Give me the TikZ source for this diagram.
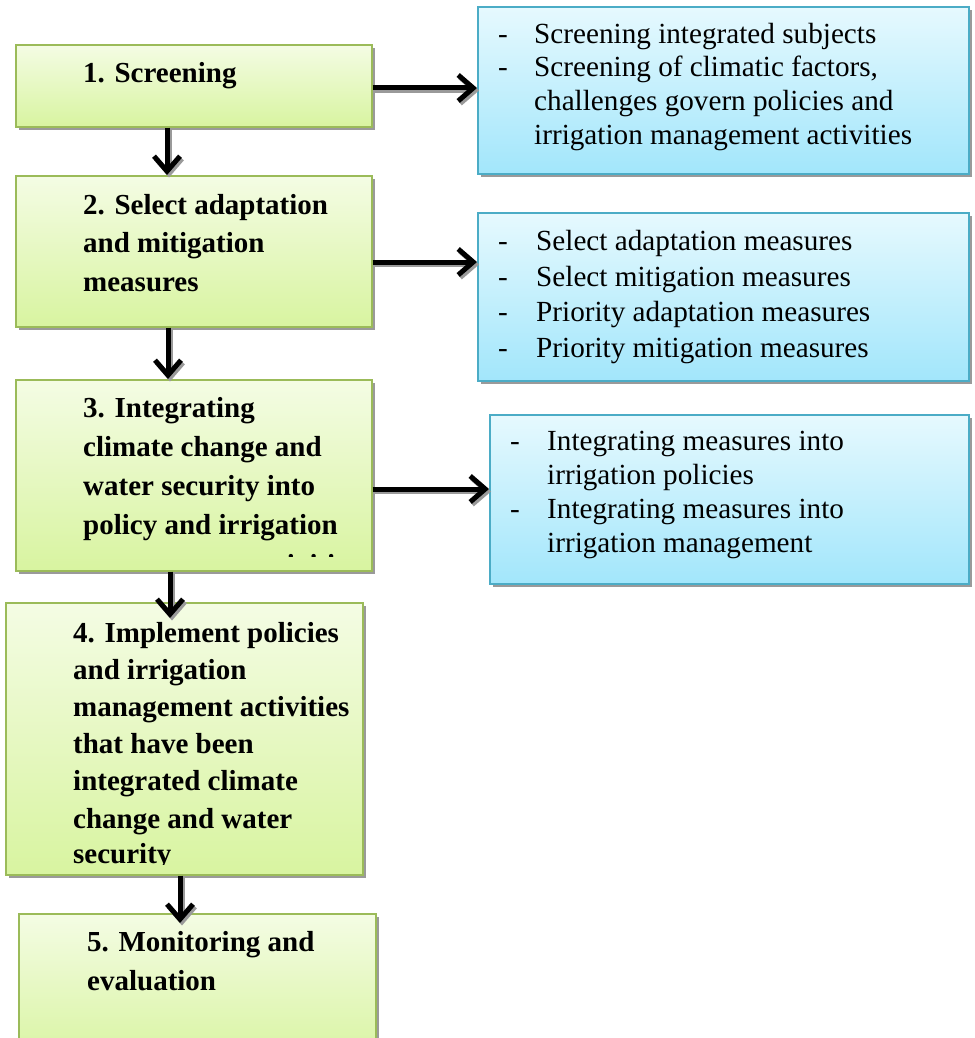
\documentclass[tikz,border=0pt]{standalone}
\usepackage{fontspec}
\setmainfont{Liberation Serif}
\usetikzlibrary{arrows.meta,shadows}
\definecolor{gborder}{HTML}{9BBB59}
\definecolor{gtop}{HTML}{F4FCE4}
\definecolor{gbot}{HTML}{D8F4A0}
\definecolor{bborder}{HTML}{4BACC6}
\definecolor{btop}{HTML}{E6F9FE}
\definecolor{bbot}{HTML}{A2E6FB}
\definecolor{shad}{HTML}{9A9A9A}
\begin{document}
\begin{tikzpicture}[x=1pt,y=-1pt,
  boxshadow/.style={drop shadow={shadow xshift=3pt,shadow yshift=-3pt,fill=shad,opacity=1}},
  gbox/.style={draw=gborder,line width=1.6pt,top color=gtop,bottom color=gbot,boxshadow,anchor=north west,inner sep=0pt},
  bbox/.style={draw=bborder,line width=1.6pt,top color=btop,bottom color=bbot,boxshadow,anchor=north west,inner sep=0pt},
  gtext/.style={anchor=base west,inner sep=0pt,font=\fontsize{29}{38.5}\selectfont\bfseries},
  btext/.style={anchor=base west,inner sep=0pt,font=\fontsize{29.2}{34}\selectfont},
  arr/.style={line width=5pt,-{Straight Barb[length=15pt,width=26pt]},
    preaction={draw=shad,line width=5pt,transform canvas={shift={(2pt,-2.5pt)}}}}]
\useasboundingbox (0,0) rectangle (974,1038);
\clip (0,0) rectangle (974,1038);

% green boxes
\node[gbox,minimum width=356pt,minimum height=82pt] (g1) at (15,44) {};
\node[gbox,minimum width=356pt,minimum height=151pt] (g2) at (15,175) {};
\node[gbox,minimum width=356pt,minimum height=191pt] (g3) at (15,379) {};
\node[gbox,minimum width=357pt,minimum height=272pt] (g4) at (5,602) {};
\node[gbox,minimum width=357pt,minimum height=150pt] (g5) at (18,913) {};

% blue boxes
\node[bbox,minimum width=491pt,minimum height=167pt] (b1) at (477,6) {};
\node[bbox,minimum width=491pt,minimum height=168pt] (b2) at (477,212) {};
\node[bbox,minimum width=479pt,minimum height=169pt] (b3) at (489,414) {};

% green texts
\node[gtext] (t1a) at (83,83) {1. Screening};

\node[gtext] (t2a) at (83,214) {2. Select adaptation};
\node[gtext] (t2b) at (83,252.5) {and mitigation};
\node[gtext] (t2c) at (83,291) {measures};

\begin{scope}
\clip (15,379) rectangle (371,556.5);
\node[gtext] (t3a) at (83,417) {3. Integrating};
\node[gtext] (t3b) at (83,456) {climate change and};
\node[gtext] (t3c) at (83,495) {water security into};
\node[gtext] (t3d) at (83,534) {policy and irrigation};
\node[gtext] (t3e) at (83,574) {management activities};
\end{scope}

\begin{scope}
\clip (5,602) rectangle (362,864);
\node[gtext] (t4a) at (73,642) {4. Implement policies};
\node[gtext] (t4b) at (73,679) {and irrigation};
\node[gtext] (t4c) at (73,716) {management activities};
\node[gtext] (t4d) at (73,753) {that have been};
\node[gtext] (t4e) at (73,790) {integrated climate};
\node[gtext] (t4f) at (73,828) {change and water};
\node[gtext] (t4g) at (73,863) {security};
\end{scope}

\node[gtext] (t5a) at (87,951) {5. Monitoring and};
\node[gtext] (t5b) at (87,990) {evaluation};

% blue texts
\node[btext] (d1a) at (498,43.5) {-};
\node[btext] (s1a) at (534,43.5) {Screening integrated subjects};
\node[btext] (d1b) at (498,77) {-};
\node[btext] (s1b) at (534,77) {Screening of climatic factors,};
\node[btext] (s1c) at (534,110.5) {challenges govern policies and};
\node[btext] (s1d) at (534,144) {irrigation management activities};

\node[btext] (d2a) at (498,250) {-};
\node[btext] (s2a) at (536,250) {Select adaptation measures};
\node[btext] (d2b) at (498,286) {-};
\node[btext] (s2b) at (536,286) {Select mitigation measures};
\node[btext] (d2c) at (498,321.5) {-};
\node[btext] (s2c) at (536,321.5) {Priority adaptation measures};
\node[btext] (d2d) at (498,357) {-};
\node[btext] (s2d) at (536,357) {Priority mitigation measures};

\node[btext] (d3a) at (510,450) {-};
\node[btext] (s3a) at (547,450) {Integrating measures into};
\node[btext] (s3b) at (547,484) {irrigation policies};
\node[btext] (d3b) at (510,518) {-};
\node[btext] (s3c) at (547,518) {Integrating measures into};
\node[btext] (s3d) at (547,552) {irrigation management};

% connector anchors
\path ([yshift=-44pt]g1.north east) coordinate (h1);
\path ([yshift=-87pt]g2.north east) coordinate (h2);
\path ([yshift=-110pt]g3.north east) coordinate (h3);
\path ([xshift=152pt]g1.south west) coordinate (v1);
\path ([xshift=153pt]g2.south west) coordinate (v2);
\path ([xshift=155pt]g3.south west) coordinate (v3);
\path ([xshift=175pt]g4.south west) coordinate (v4);
\path ([yshift=-16pt]v3 |- g4.north) coordinate (v3e);
\path ([yshift=-10pt]v4 |- g5.north) coordinate (v4e);

% connectors
\draw[arr] (h1) -- (h1 -| b1.west);
\draw[arr] (h2) -- (h2 -| b2.west);
\draw[arr] (h3) -- (h3 -| b3.west);
\draw[arr] (v1) -- (v1 |- g2.north);
\draw[arr] (v2) -- (v2 |- g3.north);
\draw[arr] (v3) -- (v3e);
\draw[arr] (v4) -- (v4e);
\end{tikzpicture}
\end{document}
